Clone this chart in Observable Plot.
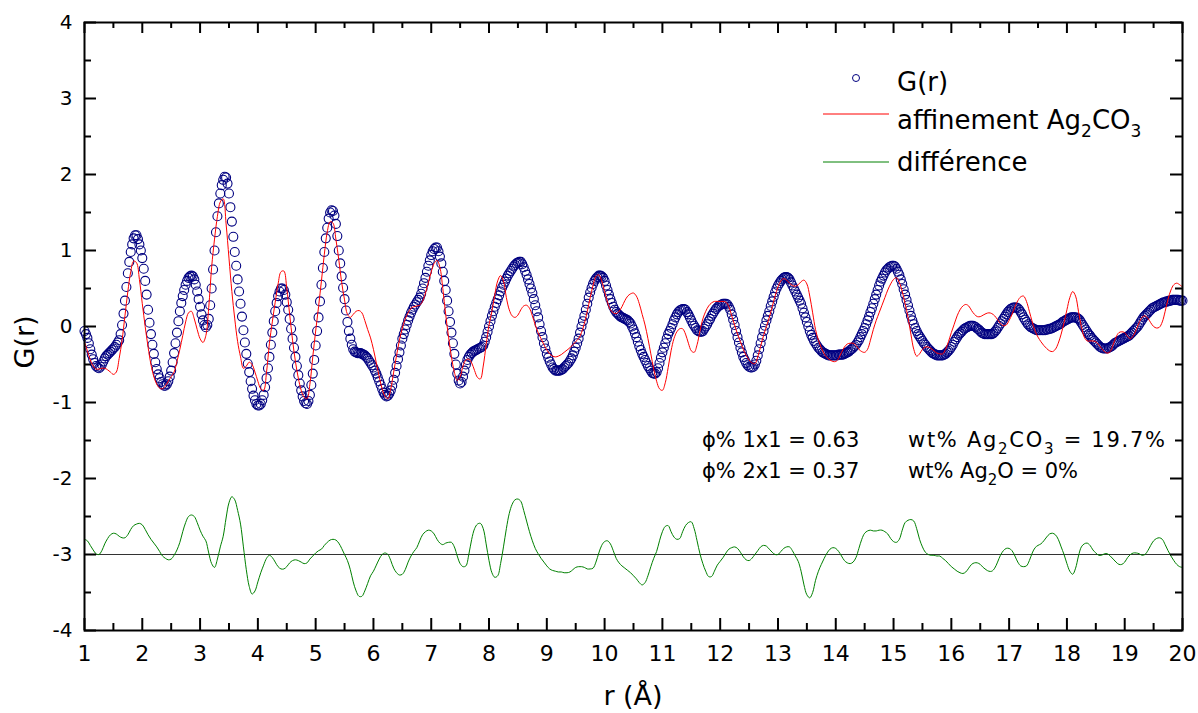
<!DOCTYPE html>
<html>
<head>
<meta charset="utf-8">
<script src="https://cdn.jsdelivr.net/npm/d3@7"></script>
<script src="https://cdn.jsdelivr.net/npm/@observablehq/plot@0.6"></script>
<style>
  html, body { margin: 0; padding: 0; background: #fff; }
  svg { display: block; }
</style>
</head>
<body>
<div id="chart"></div>
<script>
// ---- data ----
// observed G(r) (open circles), sampled at r = 1.000, 1.025, ..., 20.000
const obsStart = 1.0;
const obsStep = 0.025;
const gObs = [
 -0.06,-0.10,-0.15,-0.22,-0.30,-0.37,-0.43,-0.48,-0.52,-0.54,-0.55,-0.53,-0.50,-0.46,-0.42,-0.39,-0.37,-0.35,-0.33,-0.31,-0.29,-0.27,-0.24,-0.21,-0.18,-0.10,0.02,0.17,0.34,0.52,0.70,0.85,0.98,1.08,1.16,1.20,1.20,1.15,1.08,1.00,
 0.90,0.76,0.60,0.42,0.22,0.05,-0.10,-0.24,-0.36,-0.47,-0.56,-0.63,-0.68,-0.73,-0.76,-0.78,-0.78,-0.76,-0.72,-0.66,-0.58,-0.47,-0.35,-0.22,-0.08,0.07,0.20,0.31,0.40,0.48,0.55,0.60,0.64,0.66,0.67,0.66,0.62,0.55,0.46,0.36,
 0.26,0.16,0.08,0.02,-0.01,0.02,0.10,0.28,0.50,0.75,1.00,1.24,1.45,1.62,1.75,1.86,1.93,1.97,1.96,1.88,1.75,1.57,1.38,1.18,0.98,0.80,0.62,0.46,0.30,0.13,-0.05,-0.21,-0.36,-0.49,-0.60,-0.72,-0.82,-0.91,-0.97,-1.02,
 -1.04,-1.04,-1.02,-0.97,-0.90,-0.80,-0.68,-0.55,-0.40,-0.24,-0.08,0.07,0.20,0.31,0.40,0.46,0.50,0.50,0.48,0.42,0.32,0.22,0.10,-0.03,-0.16,-0.28,-0.40,-0.52,-0.64,-0.75,-0.84,-0.92,-0.98,-1.01,-1.02,-0.98,-0.90,-0.77,-0.62,-0.44,
 -0.25,-0.06,0.12,0.33,0.55,0.77,0.98,1.16,1.30,1.42,1.50,1.53,1.52,1.46,1.35,1.19,1.00,0.83,0.66,0.51,0.36,0.21,0.06,-0.06,-0.16,-0.24,-0.30,-0.33,-0.34,-0.35,-0.35,-0.35,-0.36,-0.37,-0.38,-0.40,-0.42,-0.45,-0.48,-0.51,
 -0.54,-0.58,-0.62,-0.67,-0.72,-0.77,-0.82,-0.87,-0.90,-0.92,-0.91,-0.88,-0.84,-0.78,-0.70,-0.61,-0.52,-0.43,-0.34,-0.25,-0.16,-0.10,-0.04,0.02,0.08,0.13,0.18,0.22,0.26,0.29,0.32,0.35,0.38,0.43,0.50,0.57,0.64,0.72,0.80,0.87,
 0.94,0.99,1.02,1.04,1.04,0.99,0.92,0.83,0.72,0.60,0.48,0.34,0.20,0.06,-0.08,-0.22,-0.36,-0.50,-0.62,-0.71,-0.75,-0.73,-0.66,-0.58,-0.50,-0.44,-0.40,-0.37,-0.35,-0.33,-0.32,-0.31,-0.30,-0.29,-0.28,-0.27,-0.25,-0.20,-0.14,-0.07,
 0.00,0.07,0.14,0.20,0.26,0.31,0.36,0.41,0.46,0.51,0.55,0.59,0.63,0.67,0.70,0.73,0.76,0.79,0.81,0.83,0.84,0.85,0.85,0.82,0.78,0.73,0.68,0.62,0.56,0.50,0.44,0.36,0.28,0.20,0.12,0.03,-0.06,-0.14,-0.22,-0.29,
 -0.36,-0.41,-0.46,-0.50,-0.54,-0.56,-0.58,-0.58,-0.58,-0.58,-0.57,-0.56,-0.54,-0.52,-0.50,-0.48,-0.45,-0.42,-0.38,-0.33,-0.28,-0.22,-0.16,-0.08,0.00,0.07,0.14,0.22,0.30,0.38,0.45,0.51,0.56,0.60,0.63,0.65,0.67,0.67,0.66,0.64,
 0.60,0.54,0.48,0.42,0.36,0.31,0.26,0.22,0.19,0.17,0.15,0.13,0.12,0.11,0.10,0.09,0.08,0.06,0.04,0.00,-0.04,-0.09,-0.14,-0.20,-0.26,-0.31,-0.36,-0.40,-0.44,-0.48,-0.52,-0.55,-0.58,-0.61,-0.62,-0.62,-0.60,-0.55,-0.48,-0.41,
 -0.34,-0.28,-0.22,-0.16,-0.10,-0.06,-0.02,0.03,0.08,0.12,0.16,0.19,0.21,0.22,0.23,0.23,0.22,0.19,0.16,0.12,0.08,0.04,0.01,-0.02,-0.05,-0.06,-0.07,-0.07,-0.06,-0.03,0.00,0.03,0.07,0.10,0.14,0.17,0.20,0.23,0.25,0.27,
 0.28,0.29,0.30,0.30,0.30,0.29,0.26,0.22,0.16,0.09,0.02,-0.06,-0.14,-0.21,-0.28,-0.34,-0.40,-0.44,-0.48,-0.51,-0.53,-0.54,-0.54,-0.53,-0.50,-0.45,-0.38,-0.30,-0.22,-0.14,-0.06,0.01,0.08,0.14,0.20,0.27,0.33,0.39,0.45,0.50,
 0.54,0.57,0.60,0.62,0.64,0.65,0.65,0.64,0.62,0.58,0.54,0.50,0.46,0.42,0.38,0.34,0.30,0.24,0.18,0.12,0.06,0.00,-0.06,-0.11,-0.15,-0.19,-0.22,-0.25,-0.28,-0.30,-0.32,-0.34,-0.35,-0.36,-0.37,-0.38,-0.38,-0.38,-0.38,-0.38,
 -0.38,-0.38,-0.37,-0.37,-0.37,-0.37,-0.36,-0.35,-0.34,-0.33,-0.31,-0.30,-0.28,-0.26,-0.24,-0.21,-0.18,-0.14,-0.10,-0.06,-0.02,0.03,0.08,0.13,0.19,0.24,0.30,0.36,0.42,0.48,0.54,0.59,0.63,0.67,0.71,0.74,0.76,0.78,0.79,0.80,
 0.80,0.79,0.76,0.72,0.68,0.62,0.56,0.49,0.42,0.35,0.28,0.21,0.14,0.08,0.03,-0.02,-0.06,-0.10,-0.13,-0.16,-0.19,-0.22,-0.24,-0.27,-0.29,-0.31,-0.33,-0.35,-0.36,-0.37,-0.38,-0.38,-0.38,-0.38,-0.38,-0.37,-0.36,-0.34,-0.32,-0.30,
 -0.27,-0.24,-0.20,-0.17,-0.14,-0.11,-0.09,-0.07,-0.05,-0.03,-0.02,-0.01,0.00,0.01,0.01,0.01,0.00,-0.01,-0.03,-0.04,-0.06,-0.08,-0.09,-0.10,-0.10,-0.10,-0.10,-0.10,-0.10,-0.09,-0.07,-0.05,-0.02,0.01,0.04,0.07,0.10,0.13,0.16,0.19,
 0.21,0.23,0.24,0.25,0.25,0.25,0.24,0.22,0.19,0.16,0.12,0.09,0.06,0.03,0.01,-0.01,-0.02,-0.03,-0.04,-0.05,-0.05,-0.05,-0.05,-0.05,-0.05,-0.05,-0.04,-0.04,-0.03,-0.03,-0.02,-0.01,0.00,0.01,0.02,0.03,0.04,0.06,0.07,0.08,
 0.09,0.10,0.11,0.12,0.12,0.12,0.12,0.11,0.10,0.08,0.05,0.02,-0.01,-0.04,-0.07,-0.10,-0.12,-0.15,-0.17,-0.19,-0.21,-0.23,-0.25,-0.27,-0.28,-0.29,-0.29,-0.29,-0.29,-0.28,-0.27,-0.26,-0.24,-0.22,-0.21,-0.20,-0.19,-0.18,-0.17,-0.16,
 -0.15,-0.14,-0.13,-0.12,-0.10,-0.08,-0.06,-0.04,-0.02,0.00,0.03,0.06,0.09,0.12,0.14,0.16,0.18,0.20,0.22,0.24,0.25,0.26,0.27,0.28,0.29,0.30,0.31,0.32,0.32,0.33,0.33,0.34,0.34,0.35,0.35,0.35,0.35,0.35,0.34,0.34,
 0.34
];

// refinement and difference curves, sampled at r = 1.00, 1.05, ..., 20.00
const lineStart = 1.0;
const lineStep = 0.05;

// "affinement Ag2CO3" (red line)
const gFit = [
 -0.20,-0.32,-0.44,-0.52,-0.56,-0.56,-0.55,-0.55,-0.57,-0.60,-0.63,-0.60,-0.42,-0.18,0.14,0.46,0.72,0.86,0.84,0.62,
 0.30,0.00,-0.27,-0.50,-0.66,-0.76,-0.81,-0.82,-0.78,-0.72,-0.66,-0.60,-0.46,-0.30,-0.12,0.06,0.18,0.20,0.10,-0.04,
 -0.16,-0.21,-0.12,0.25,0.78,1.15,1.45,1.64,1.68,1.35,0.90,0.46,0.10,-0.20,-0.40,-0.55,-0.52,-0.47,-0.50,-0.60,
 -0.72,-0.82,-0.84,-0.60,-0.22,0.06,0.32,0.56,0.72,0.73,0.50,0.16,-0.18,-0.46,-0.68,-0.84,-0.93,-0.95,-0.76,-0.40,
 -0.06,0.26,0.60,0.95,1.24,1.38,1.36,1.15,0.88,0.58,0.35,0.16,0.12,0.16,0.20,0.21,0.18,0.08,-0.04,-0.15,
 -0.30,-0.48,-0.66,-0.82,-0.92,-0.95,-0.82,-0.60,-0.38,-0.18,-0.02,0.10,0.18,0.24,0.26,0.27,0.28,0.33,0.44,0.58,
 0.72,0.83,0.87,0.78,0.50,0.16,-0.14,-0.40,-0.60,-0.71,-0.66,-0.52,-0.44,-0.43,-0.48,-0.58,-0.67,-0.69,-0.52,-0.24,
 0.02,0.20,0.42,0.60,0.67,0.60,0.38,0.22,0.14,0.12,0.15,0.22,0.27,0.28,0.24,0.14,0.02,-0.08,-0.16,-0.24,
 -0.31,-0.36,-0.39,-0.40,-0.39,-0.37,-0.34,-0.31,-0.28,-0.24,-0.20,-0.16,-0.08,0.04,0.20,0.38,0.54,0.66,0.68,0.60,
 0.46,0.32,0.22,0.18,0.17,0.20,0.26,0.34,0.40,0.43,0.44,0.40,0.30,0.16,0.02,-0.16,-0.36,-0.56,-0.72,-0.82,
 -0.84,-0.74,-0.54,-0.32,-0.16,-0.07,-0.03,-0.03,-0.10,-0.22,-0.32,-0.34,-0.24,-0.06,0.10,0.20,0.27,0.31,0.33,0.33,
 0.33,0.33,0.32,0.26,0.14,0.02,-0.10,-0.20,-0.30,-0.38,-0.44,-0.48,-0.49,-0.40,-0.26,-0.12,0.00,0.12,0.26,0.40,
 0.52,0.60,0.63,0.61,0.57,0.54,0.53,0.55,0.59,0.61,0.56,0.40,0.18,-0.04,-0.18,-0.28,-0.36,-0.41,-0.44,-0.46,
 -0.46,-0.42,-0.34,-0.27,-0.23,-0.22,-0.22,-0.25,-0.30,-0.33,-0.34,-0.30,-0.18,-0.04,0.08,0.18,0.28,0.38,0.48,0.56,
 0.62,0.64,0.58,0.46,0.30,0.12,-0.10,-0.30,-0.39,-0.36,-0.30,-0.27,-0.27,-0.29,-0.32,-0.35,-0.36,-0.36,-0.30,-0.20,
 -0.08,0.03,0.14,0.22,0.27,0.29,0.27,0.21,0.16,0.13,0.13,0.15,0.17,0.18,0.17,0.14,0.09,0.04,0.01,0.02,
 0.08,0.16,0.26,0.34,0.39,0.40,0.33,0.20,0.06,-0.06,-0.14,-0.20,-0.25,-0.29,-0.32,-0.33,-0.30,-0.22,-0.10,0.05,
 0.22,0.38,0.46,0.40,0.20,0.00,-0.14,-0.19,-0.19,-0.19,-0.20,-0.24,-0.29,-0.33,-0.35,-0.33,-0.24,-0.14,-0.08,-0.07,
 -0.08,-0.13,-0.16,-0.12,-0.04,0.05,0.12,0.14,0.11,0.05,0.00,-0.02,-0.01,0.06,0.20,0.36,0.48,0.55,0.57,0.55,
 0.52
];

// "différence" (green line, drawn around -3)
const gDiff = [
 -2.80,-2.82,-2.88,-2.94,-2.99,-3.00,-2.95,-2.86,-2.79,-2.74,-2.72,-2.73,-2.76,-2.78,-2.78,-2.74,-2.67,-2.62,-2.60,-2.59,
 -2.61,-2.67,-2.74,-2.80,-2.85,-2.90,-2.96,-3.02,-3.05,-3.07,-3.06,-3.01,-2.94,-2.84,-2.70,-2.58,-2.50,-2.48,-2.50,-2.58,
 -2.68,-2.76,-2.82,-2.98,-3.12,-3.17,-3.06,-2.90,-2.76,-2.52,-2.32,-2.24,-2.28,-2.42,-2.60,-2.90,-3.20,-3.42,-3.52,-3.48,
 -3.36,-3.24,-3.14,-3.05,-3.01,-3.04,-3.10,-3.16,-3.19,-3.19,-3.16,-3.11,-3.08,-3.07,-3.08,-3.10,-3.12,-3.11,-3.06,-3.02,
 -2.98,-2.95,-2.93,-2.88,-2.84,-2.81,-2.80,-2.81,-2.85,-2.92,-3.00,-3.08,-3.20,-3.36,-3.48,-3.55,-3.55,-3.48,-3.38,-3.28,
 -3.22,-3.14,-3.06,-3.00,-2.98,-3.00,-3.08,-3.18,-3.24,-3.27,-3.26,-3.20,-3.10,-3.02,-2.96,-2.91,-2.82,-2.74,-2.70,-2.68,
 -2.69,-2.73,-2.80,-2.85,-2.87,-2.85,-2.84,-2.84,-2.90,-3.02,-3.12,-3.16,-3.15,-3.00,-2.80,-2.66,-2.60,-2.59,-2.66,-2.86,
 -3.08,-3.24,-3.30,-3.28,-3.12,-2.90,-2.66,-2.46,-2.34,-2.28,-2.27,-2.30,-2.42,-2.56,-2.70,-2.82,-2.92,-2.99,-3.05,-3.10,
 -3.15,-3.19,-3.21,-3.22,-3.23,-3.23,-3.24,-3.24,-3.23,-3.20,-3.17,-3.16,-3.16,-3.17,-3.19,-3.19,-3.18,-3.10,-2.98,-2.88,
 -2.83,-2.82,-2.86,-2.95,-3.05,-3.11,-3.15,-3.18,-3.21,-3.24,-3.28,-3.32,-3.37,-3.40,-3.37,-3.28,-3.16,-3.05,-2.96,-2.82,
 -2.70,-2.63,-2.62,-2.70,-2.77,-2.80,-2.79,-2.70,-2.62,-2.58,-2.57,-2.66,-2.82,-2.99,-3.12,-3.22,-3.29,-3.29,-3.22,-3.14,
 -3.09,-3.04,-2.98,-2.93,-2.91,-2.90,-2.92,-2.97,-3.03,-3.07,-3.08,-3.05,-3.00,-2.95,-2.90,-2.88,-2.89,-2.93,-2.97,-3.00,
 -3.00,-2.96,-2.92,-2.90,-2.90,-2.95,-3.02,-3.09,-3.22,-3.40,-3.53,-3.57,-3.50,-3.34,-3.22,-3.13,-3.05,-2.98,-2.93,-2.91,
 -2.92,-2.96,-3.02,-3.08,-3.11,-3.12,-3.10,-3.04,-2.92,-2.80,-2.72,-2.69,-2.68,-2.69,-2.69,-2.68,-2.68,-2.70,-2.73,-2.79,
 -2.83,-2.84,-2.80,-2.68,-2.58,-2.55,-2.54,-2.56,-2.66,-2.80,-2.90,-2.97,-3.00,-3.01,-3.01,-3.02,-3.02,-3.05,-3.08,-3.12,
 -3.16,-3.19,-3.22,-3.24,-3.25,-3.23,-3.18,-3.13,-3.11,-3.11,-3.13,-3.17,-3.20,-3.22,-3.22,-3.18,-3.10,-3.01,-2.95,-2.92,
 -2.92,-2.95,-3.02,-3.10,-3.15,-3.16,-3.15,-3.08,-2.98,-2.91,-2.88,-2.86,-2.82,-2.77,-2.73,-2.72,-2.74,-2.80,-2.90,-3.00,
 -3.12,-3.22,-3.26,-3.18,-3.02,-2.90,-2.86,-2.85,-2.88,-2.94,-2.98,-3.01,-3.01,-2.99,-2.99,-3.02,-3.06,-3.10,-3.13,-3.13,
 -3.10,-3.04,-3.00,-2.98,-2.98,-2.99,-3.01,-3.00,-2.95,-2.88,-2.82,-2.79,-2.78,-2.80,-2.87,-2.95,-3.02,-3.08,-3.13,-3.16,
 -3.17
];

const diffBaseline = [-3];
const xTicks = [1,2,3,4,5,6,7,8,9,10,11,12,13,14,15,16,17,18,19,20];
const yTicks = [-4,-3,-2,-1,0,1,2,3,4];
const xMinor = d3.range(1.5, 20, 1);
const yMinor = d3.range(-3.5, 4, 1);

const legendLabels = ["G(r)", "affinement Ag", "2", "CO", "3", "différence"];
const xTitle = "r (Å)";
const yTitle = "G(r)";

// ---- tables built from the arrays ----
const obsRows = gObs.map((g, i) => ({r: +(obsStart + i * obsStep).toFixed(3), g}));
const lineRows = gFit.map((f, i) => ({r: +(lineStart + i * lineStep).toFixed(2), fit: f, diff: gDiff[i]}));

// ---- layout ----
const W = 1198, H = 713;
const mL = 84, mR = 16, mT = 22, mB = 83;
const pw = W - mL - mR, ph = H - mT - mB;
const FONT = "DejaVu Sans, Liberation Sans, Arial, sans-serif";
const NAVY = "#000080", RED = "#ff0000", GREEN = "#008000";

const chart = Plot.plot({
  width: W, height: H,
  marginLeft: mL, marginRight: mR, marginTop: mT, marginBottom: mB,
  x: {domain: [1, 20], axis: null},
  y: {domain: [-4, 4], axis: null},
  style: {fontFamily: FONT, fontSize: "20px", color: "#000", background: "#fff", overflow: "visible"},
  marks: [
    Plot.ruleY(diffBaseline, {y: d => d, stroke: "#333", strokeWidth: 1}),
    Plot.line(lineRows, {x: "r", y: "diff", stroke: GREEN, strokeWidth: 1, curve: "catmull-rom"}),
    Plot.dot(obsRows, {x: "r", y: "g", r: 4.5, stroke: NAVY, strokeWidth: 1.1, fill: "none"}),
    Plot.line(lineRows, {x: "r", y: "fit", stroke: RED, strokeWidth: 1, curve: "catmull-rom"}),
    // inward ticks (bottom / top)
    Plot.ruleX(xTicks, {x: d => d, insetTop: ph - 12, stroke: "#000", strokeWidth: 2}),
    Plot.ruleX(xMinor, {x: d => d, insetTop: ph - 7, stroke: "#000", strokeWidth: 2}),
    Plot.ruleX(xTicks, {x: d => d, insetBottom: ph - 11, stroke: "#000", strokeWidth: 2}),
    Plot.ruleX(xMinor, {x: d => d, insetBottom: ph - 6, stroke: "#000", strokeWidth: 2}),
    // inward ticks (left / right)
    Plot.ruleY(yTicks, {y: d => d, insetRight: pw - 12, stroke: "#000", strokeWidth: 2}),
    Plot.ruleY(yMinor, {y: d => d, insetRight: pw - 7, stroke: "#000", strokeWidth: 2}),
    Plot.ruleY(yTicks, {y: d => d, insetLeft: pw - 12, stroke: "#000", strokeWidth: 2}),
    Plot.ruleY(yMinor, {y: d => d, insetLeft: pw - 7, stroke: "#000", strokeWidth: 2}),
    Plot.frame({stroke: "#000", strokeWidth: 2}),
    // tick labels
    Plot.text(xTicks, {x: d => d, text: d => String(d), frameAnchor: "bottom", lineAnchor: "top", dy: 15, fontSize: 22, fill: "#000"}),
    Plot.text(yTicks, {y: d => d, text: d => String(d), frameAnchor: "left", textAnchor: "end", dx: -12, fontSize: 20, fill: "#000"})
  ]
});

document.getElementById("chart").appendChild(chart);

// ---- titles, legend and annotations ----
const svg = d3.select(chart);
const sx = chart.scale("x");
const txt = (x, y, size, anchor) => svg.append("text")
  .attr("x", x).attr("y", y)
  .attr("font-family", FONT).attr("font-size", size)
  .attr("text-anchor", anchor || "start").attr("fill", "#000");

// axis titles
txt((sx.apply(1) + sx.apply(20)) / 2, 705, 27, "middle").text(xTitle);
svg.append("text")
  .attr("transform", "translate(34,342) rotate(-90)")
  .attr("font-family", FONT).attr("font-size", 27)
  .attr("text-anchor", "middle").attr("fill", "#000").text(yTitle);

// legend
const lgX = 823, lgLine = 66, lgText = 897;
svg.append("circle").attr("cx", 856).attr("cy", 78).attr("r", 3.5)
  .attr("fill", "none").attr("stroke", NAVY).attr("stroke-width", 1);
txt(lgText, 91, 26).text(legendLabels[0]);

svg.append("line").attr("x1", lgX).attr("x2", lgX + lgLine).attr("y1", 114).attr("y2", 114)
  .attr("stroke", RED).attr("stroke-width", 1);
const t2 = txt(lgText, 129, 26);
t2.append("tspan").text(legendLabels[1]);
t2.append("tspan").attr("dy", 8).attr("font-size", 17).text(legendLabels[2]);
t2.append("tspan").attr("dy", -8).text(legendLabels[3]);
t2.append("tspan").attr("dy", 8).attr("font-size", 17).text(legendLabels[4]);

svg.append("line").attr("x1", lgX).attr("x2", lgX + lgLine).attr("y1", 162).attr("y2", 162)
  .attr("stroke", GREEN).attr("stroke-width", 1);
txt(lgText, 171, 26).text(legendLabels[5]);

// annotations
txt(702, 447, 21).text("ϕ% 1x1 = 0.63");
txt(702, 478, 21).text("ϕ% 2x1 = 0.37");

const a1 = txt(908, 447, 21).attr("textLength", 257).attr("lengthAdjust", "spacing");
a1.append("tspan").text("wt% Ag");
a1.append("tspan").attr("dy", 7).attr("font-size", 15).text("2");
a1.append("tspan").attr("dy", -7).text("CO");
a1.append("tspan").attr("dy", 7).attr("font-size", 15).text("3");
a1.append("tspan").attr("dy", -7).text(" = 19.7%");

const a2 = txt(908, 478, 21);
a2.append("tspan").text("wt% Ag");
a2.append("tspan").attr("dy", 7).attr("font-size", 15).text("2");
a2.append("tspan").attr("dy", -7).text("O = 0%");
</script>
</body>
</html>
